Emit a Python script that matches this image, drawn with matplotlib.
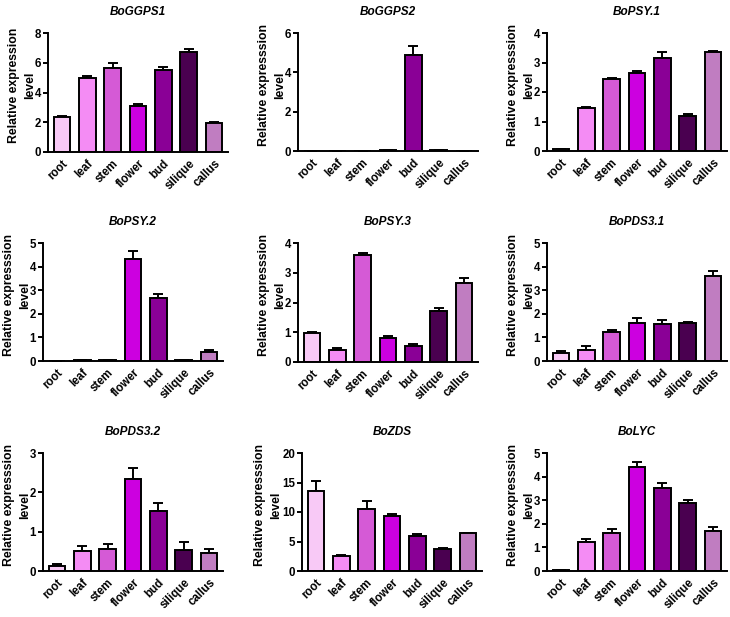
import matplotlib
matplotlib.use("Agg")
import matplotlib.pyplot as plt
import numpy as np

plt.rcParams['font.family'] = ['Liberation Sans', 'DejaVu Sans']

tissues = ["root", "leaf", "stem", "flower", "bud", "silique", "callus"]
colors = ["#F8C9F6", "#F48CF4", "#D55AD6", "#CC00E0", "#8A0096", "#4A0050", "#C07DC1"]

genes = ["BoGGPS1", "BoGGPS2", "BoPSY.1", "BoPSY.2", "BoPSY.3", "BoPDS3.1", "BoPDS3.2", "BoZDS", "BoLYC"]

ggps1 = [2.35, 4.95, 5.65, 3.1, 5.5, 6.7, 1.95]
ggps1_err = [0.08, 0.15, 0.35, 0.1, 0.2, 0.25, 0.08]
ggps2 = [0.005, 0.005, 0.005, 0.03, 4.9, 0.03, 0.005]
ggps2_err = [0.0, 0.0, 0.0, 0.01, 0.42, 0.01, 0.0]
psy1 = [0.06, 1.45, 2.45, 2.63, 3.15, 1.17, 3.35]
psy1_err = [0.01, 0.05, 0.04, 0.08, 0.2, 0.08, 0.05]
psy2 = [0.01, 0.03, 0.05, 4.32, 2.68, 0.05, 0.4]
psy2_err = [0.0, 0.01, 0.01, 0.35, 0.17, 0.01, 0.05]
psy3 = [0.97, 0.42, 3.58, 0.82, 0.53, 1.7, 2.65]
psy3_err = [0.05, 0.04, 0.1, 0.04, 0.07, 0.1, 0.18]
pds31 = [0.35, 0.48, 1.25, 1.63, 1.58, 1.62, 3.6]
pds31_err = [0.07, 0.17, 0.05, 0.18, 0.15, 0.05, 0.2]
pds32 = [0.13, 0.5, 0.57, 2.33, 1.53, 0.53, 0.46]
pds32_err = [0.04, 0.13, 0.12, 0.28, 0.2, 0.2, 0.1]
zds = [13.6, 2.5, 10.5, 9.4, 5.9, 3.8, 6.4]
zds_err = [1.6, 0.2, 1.3, 0.2, 0.3, 0.15, 0.1]
lyc = [0.03, 1.25, 1.62, 4.42, 3.5, 2.9, 1.68]
lyc_err = [0.01, 0.12, 0.15, 0.2, 0.23, 0.12, 0.17]

values = [ggps1, ggps2, psy1, psy2, psy3, pds31, pds32, zds, lyc]
errors = [ggps1_err, ggps2_err, psy1_err, psy2_err, psy3_err, pds31_err, pds32_err, zds_err, lyc_err]
ymax = [8, 6, 4, 5, 4, 5, 3, 20, 5]
ystep = [2, 2, 1, 1, 1, 1, 1, 5, 1]
ylabel_line1 = ["Relative expression"] + ["Relative expresssion"] * 8
ylabel_line2 = ["level"] * 9

W, H = 730, 617
fig = plt.figure(figsize=(W / 100, H / 100), dpi=100)

# pixel positions (left, top, bottom)
lefts = [48, 298, 547, 43, 298, 547, 43, 302, 547]
tops = [33, 33, 33, 243, 243, 243, 453, 453, 453]
bots = [152, 151, 151, 361, 362, 361, 571, 571, 571]
extra_off = [0, 0, 0, 0, 0, 0, 0, 8, 0]
width_px = 180

x = np.arange(len(tissues))
for i in range(9):
    l, t, b = lefts[i], tops[i], bots[i]
    ax = fig.add_axes([l / W, (H - b) / H, width_px / W, (b - t) / H])
    ax.bar(x, values[i], width=0.65, color=colors, edgecolor="black", linewidth=1.4, zorder=2)
    ax.errorbar(x, values[i], yerr=[np.zeros(7), errors[i]], fmt="none", ecolor="black",
                elinewidth=1.4, capsize=3.5, capthick=1.4, zorder=1)
    ax.set_xlim(-0.55, 6.55)
    ax.set_ylim(0, ymax[i])
    ax.set_yticks(np.arange(0, ymax[i] + 0.001, ystep[i]))
    ax.set_xticks(x)
    ax.set_xticklabels(tissues, rotation=45, ha="right", rotation_mode="anchor",
                       fontsize=8.3, fontweight="bold")
    for lab in ax.get_yticklabels():
        lab.set_fontweight("bold")
        lab.set_fontsize(8.3)
    ax.tick_params(axis="x", length=0, pad=4)
    ax.tick_params(axis="y", length=3.5, width=1.4, pad=1.5)
    for s in ["top", "right"]:
        ax.spines[s].set_visible(False)
    for s in ["left", "bottom"]:
        ax.spines[s].set_linewidth(1.4)
    ax.text(-(34 + extra_off[i]) / width_px, 0.56, ylabel_line1[i], transform=ax.transAxes,
            rotation=90, ha="center", va="center", fontsize=8.8, fontweight="bold")
    ax.text(-(18 + extra_off[i]) / width_px, 0.56, ylabel_line2[i], transform=ax.transAxes,
            rotation=90, ha="center", va="center", fontsize=8.8, fontweight="bold")
    ax.set_title(genes[i], fontsize=8.5, fontweight="bold", fontstyle="italic", pad=13)

fig.savefig("out.png", dpi=100)
